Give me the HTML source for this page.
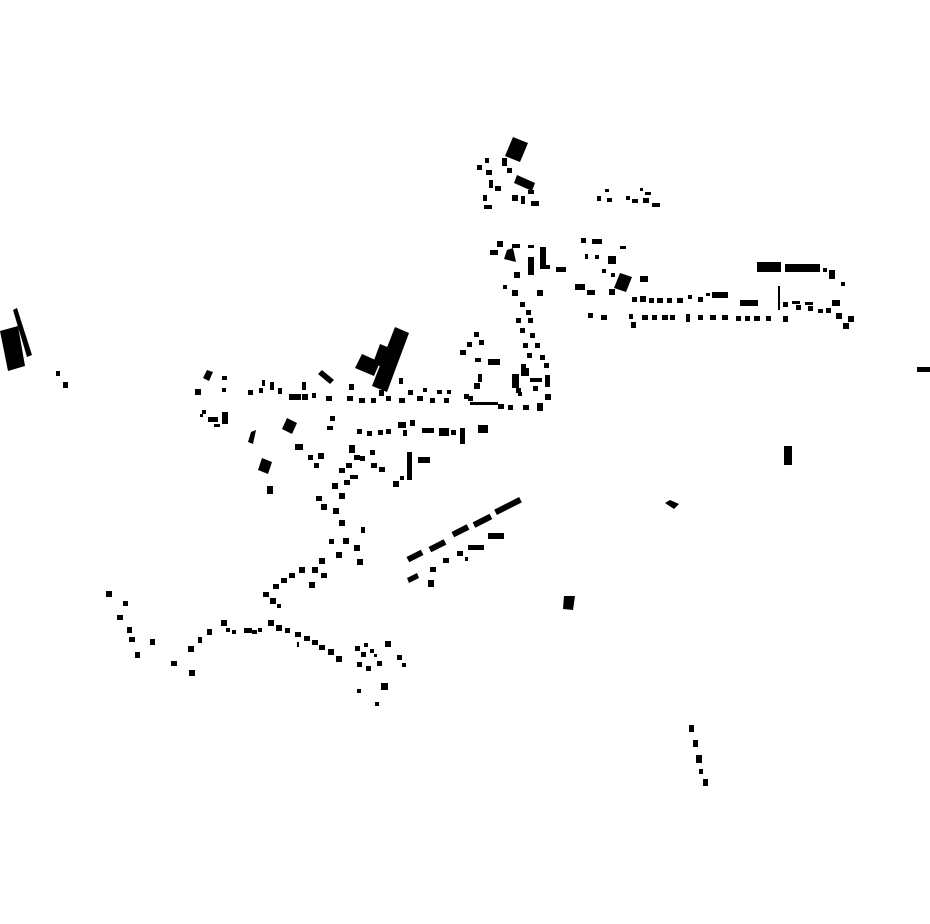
<!DOCTYPE html>
<html><head><meta charset="utf-8"><style>html,body{margin:0;padding:0;background:#fff}svg{display:block}</style></head>
<body>
<svg width="930" height="924" viewBox="0 0 930 924" xmlns="http://www.w3.org/2000/svg">
<rect width="930" height="924" fill="#fff"/>
<g fill="#000">
<polygon points="0,331 18,326 25,366 8,371"/>
<polygon points="13,310 17,308 32,355 27,357"/>
<rect x="56" y="371" width="4" height="5"/><rect x="63" y="382" width="5" height="6"/>
<polygon points="513,137 528,143 520,162 505,156"/>
<rect x="502" y="158" width="5" height="8"/>
<polygon points="517,175 535,183 532,191 514,183"/>
<path d="M477 165h5v5h-5zM485 158h4v5h-4zM486 170h6v5h-6zM489 180h4v8h-4zM495 186h6v5h-6zM483 195h4v6h-4zM484 205h8v4h-8zM507 168h5v5h-5zM512 195h6v6h-6zM521 196h4v8h-4zM528 190h6v4h-6zM531 201h8v5h-8z"/>
<path d="M597 196h4v5h-4zM605 189h4v3h-4zM607 198h5v4h-5zM626 196h4v4h-4zM632 199h6v4h-6zM640 188h3v3h-3zM643 198h6v5h-6zM652 203h8v4h-8zM645 192h6v3h-6z"/>
<path d="M632 297h5v5h-5zM640 296h6v6h-6zM649 298h5v5h-5zM657 298h6v5h-6zM667 298h5v5h-5zM677 298h6v5h-6zM688 295h4v4h-4zM698 297h5v5h-5zM706 293h4v3h-4zM712 292h16v6h-16zM740 300h18v6h-18z"/>
<path d="M629 314h4v5h-4zM631 322h5v6h-5zM642 315h6v5h-6zM652 315h5v5h-5zM662 315h6v5h-6zM670 315h5v5h-5zM686 314h4v8h-4zM698 315h5v5h-5zM710 315h6v5h-6zM722 315h6v5h-6zM736 316h5v5h-5zM745 316h5v5h-5zM754 316h6v5h-6zM766 316h5v5h-5zM783 316h5v6h-5z"/>
<rect x="757" y="262" width="24" height="10"/><rect x="785" y="264" width="35" height="8"/>
<path d="M823 268h4v4h-4zM829 270h6v9h-6zM841 282h4v4h-4zM778 286h2v24h-2zM783 302h5v5h-5zM792 301h8v3h-8zM796 305h5v5h-5zM805 302h8v3h-8zM808 306h5v5h-5zM818 309h5v4h-5zM826 308h5v5h-5zM832 300h8v6h-8zM836 313h6v6h-6zM848 316h6v6h-6zM843 323h6v6h-6z"/>
<path d="M581 238h5v5h-5zM592 239h10v5h-10zM620 246h6v3h-6zM585 254h3v5h-3zM595 255h4v4h-4zM608 256h8v8h-8zM602 269h4v4h-4zM611 273h4v4h-4zM640 276h8v6h-8zM609 289h6v6h-6zM575 284h10v6h-10zM587 290h8v5h-8zM588 313h5v5h-5zM601 315h6v5h-6z"/>
<polygon points="620,273 632,277 626,292 614,288"/>
<path d="M490 250h8v5h-8zM497 241h6v6h-6zM512 244h8v4h-8zM528 245h6v3h-6zM540 247h6v22h-6zM528 257h6v18h-6zM544 265h6v4h-6zM556 267h10v5h-10zM537 290h6v6h-6zM514 272h6v6h-6zM512 290h6v6h-6zM503 285h4v4h-4z"/>
<polygon points="507,250 513,248 516,262 504,259"/>
<path d="M520 302h5v5h-5zM526 310h5v5h-5zM516 318h5v5h-5zM528 318h5v5h-5zM520 328h5v5h-5zM530 333h5v5h-5zM523 343h5v5h-5zM535 343h5v5h-5zM527 353h5v5h-5zM540 355h5v5h-5zM521 364h5v5h-5zM544 363h5v5h-5zM512 374h7v14h-7zM521 368h8v8h-8zM530 378h12v4h-12zM545 375h5v12h-5zM516 388h5v5h-5zM533 386h5v5h-5zM545 394h6v6h-6zM537 403h6v8h-6zM523 405h6v5h-6zM508 405h5v5h-5zM498 404h6v5h-6zM470 402h28v3h-28zM464 394h5v5h-5zM474 383h6v6h-6zM478 374h4v8h-4zM475 358h6v4h-6zM460 350h6v5h-6zM467 342h5v5h-5zM474 332h5v5h-5zM479 340h5v5h-5zM488 359h12v6h-12zM518 392h4v4h-4z"/>
<path d="M195 389h6v6h-6zM222 376h5v4h-5zM222 388h4v4h-4zM248 390h5v5h-5zM259 388h4v5h-4zM262 380h3v6h-3zM270 382h4v8h-4zM278 388h4v6h-4zM289 394h12v6h-12zM302 394h6v6h-6zM312 393h4v5h-4zM326 396h6v5h-6zM347 396h6v5h-6zM349 384h5v6h-5zM359 398h6v5h-6zM371 398h5v5h-5zM379 390h5v6h-5zM386 396h5v5h-5zM399 378h4v6h-4zM399 398h6v5h-6zM408 390h5v5h-5zM417 396h6v5h-6zM423 388h4v4h-4zM430 398h5v5h-5zM437 390h5v4h-5zM444 398h5v5h-5zM447 390h4v4h-4zM468 396h5v5h-5z"/>
<polygon points="203,378 207,370 213,372 209,381"/>
<polygon points="322,370 334,380 330,384 318,374"/>
<polygon points="395,327 409,333 387,392 372,386"/>
<polygon points="362,354 380,362 374,376 355,368"/>
<polygon points="380,344 392,349 384,368 373,363"/>
<rect x="302" y="382" width="4" height="8"/>
<path d="M202 410h4v4h-4zM208 417h10v5h-10zM222 412h6v12h-6zM214 424h6v3h-6zM200 414h3v3h-3z"/>
<polygon points="251,432 256,430 253,444 248,442"/>
<polygon points="287,418 297,423 292,434 282,429"/>
<path d="M330 416h5v5h-5zM327 426h6v4h-6zM357 429h5v5h-5zM367 431h5v5h-5zM378 430h5v5h-5zM386 429h5v5h-5zM398 422h8v6h-8zM403 430h4v6h-4zM410 420h5v6h-5zM422 428h12v5h-12zM439 428h10v8h-10zM451 430h5v5h-5zM460 428h5v16h-5zM478 425h10v8h-10z"/>
<polygon points="262,458 272,462 268,474 258,470"/>
<path d="M267 486h6v8h-6zM295 444h8v6h-8zM308 455h5v5h-5zM318 453h6v6h-6zM314 463h5v5h-5zM349 445h6v8h-6zM354 455h6v5h-6zM346 463h6v5h-6zM360 456h5v5h-5zM370 450h5v5h-5zM371 463h6v5h-6zM379 467h6v5h-6zM339 468h6v5h-6zM350 475h8v4h-8zM344 480h6v5h-6zM332 483h6v6h-6zM339 493h6v6h-6zM393 481h6v6h-6zM400 476h4v4h-4zM407 452h5v28h-5zM418 457h12v6h-12zM316 496h6v5h-6zM321 504h6v6h-6zM333 508h6v6h-6zM339 520h6v6h-6zM361 527h4v6h-4zM343 538h6v6h-6zM354 545h6v6h-6zM357 559h6v6h-6zM329 539h5v5h-5zM336 552h6v6h-6zM319 558h6v6h-6zM312 567h6v6h-6zM321 573h6v5h-6zM309 582h6v6h-6zM299 567h6v6h-6zM289 573h6v5h-6zM281 578h6v5h-6zM273 584h6v5h-6zM263 592h6v5h-6zM270 598h6v6h-6zM277 604h4v4h-4z"/>
<path d="M106 591h6v6h-6zM123 601h5v5h-5zM117 615h6v5h-6zM127 627h5v6h-5zM129 637h6v5h-6zM135 652h5v6h-5zM150 639h5v6h-5zM171 661h6v5h-6zM189 670h6v6h-6zM188 646h6v6h-6zM198 637h4v6h-4zM207 629h5v6h-5zM221 620h6v6h-6zM226 628h4v4h-4zM232 630h4v4h-4zM244 628h8v5h-8zM252 630h5v4h-5zM258 628h4v4h-4zM268 620h6v6h-6zM276 625h6v6h-6zM285 628h5v5h-5zM295 632h6v5h-6zM304 636h6v5h-6zM312 640h6v5h-6zM319 645h6v5h-6zM328 649h6v6h-6zM336 656h6v6h-6zM297 642h2v5h-2z"/>
<path d="M355 646h5v5h-5zM364 643h4v4h-4zM361 652h5v5h-5zM370 649h4v4h-4zM374 654h3v3h-3zM385 641h6v6h-6zM357 662h5v5h-5zM366 666h5v5h-5zM377 661h5v5h-5zM397 655h5v5h-5zM402 663h4v4h-4zM357 689h4v4h-4zM381 683h7v7h-7zM375 702h4v4h-4z"/>
<!-- diagonal row -->
<rect x="407" y="553" width="16" height="6" transform="rotate(-27 415 556)"/>
<rect x="429" y="543" width="17" height="6" transform="rotate(-27 437 546)"/>
<rect x="452" y="528" width="17" height="6" transform="rotate(-27 460 531)"/>
<rect x="473" y="518" width="19" height="6" transform="rotate(-27 482 521)"/>
<rect x="494" y="503" width="28" height="6" transform="rotate(-27 508 506)"/>
<rect x="488" y="533" width="16" height="6"/><rect x="468" y="545" width="16" height="5"/>
<path d="M457 551h6v5h-6zM443 558h6v5h-6zM430 567h6v5h-6zM428 580h6v7h-6zM465 557h3v4h-3z"/>
<polygon points="407,578 417,573 419,578 409,583"/>
<polygon points="564,596 575,596 573,610 563,609"/>
<polygon points="665,503 670,500 679,504 674,509"/>
<rect x="784" y="446" width="8" height="19"/>
<rect x="917" y="367" width="13" height="5"/>
<path d="M689 725h5v7h-5zM693 740h5v7h-5zM696 755h6v8h-6zM699 769h4v5h-4zM703 779h5v7h-5z"/>
</g>
</svg>
</body></html>
